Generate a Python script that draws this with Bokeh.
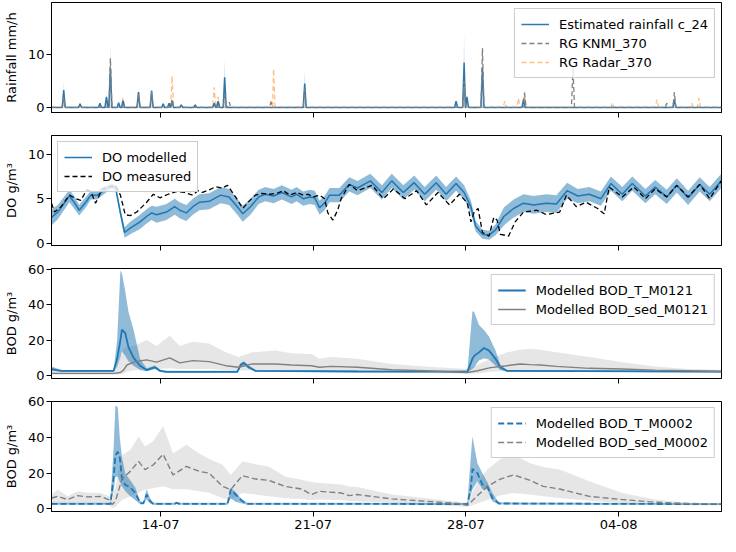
import numpy as np
import pandas as pd
from bokeh.plotting import figure
from bokeh.layouts import column
from bokeh.models import (Range1d, FixedTicker, DatetimeTickFormatter, Legend, LegendItem,
                          CustomLabelingPolicy)
from bokeh.embed import file_html
from bokeh.resources import INLINE

# ---------------- data (time in days since 2019-07-09 00:00) ----------------
START = "2019-07-09 00:00"
X_END = 30.72
tick_dates = ["2019-07-14", "2019-07-21", "2019-07-28", "2019-08-04"]

# Rainfall panel (peaks)
rain_est_t = [0.56, 1.31, 2.22, 2.52, 2.70, 3.08, 3.28, 3.99, 4.59, 5.12, 5.39, 5.53, 5.95, 6.59,
              7.46, 7.64, 7.94, 11.61, 18.55, 18.92, 19.05, 19.76, 21.64, 28.56]
rain_est = [3.3, 0.7, 0.8, 2.0, 7.5, 0.9, 1.3, 2.9, 3.2, 0.7, 0.8, 1.3, 0.5, 0.5,
            0.8, 1.2, 5.7, 4.5, 1.2, 8.5, 2.0, 7.5, 1.5, 1.5]
rain_est_hi = [4.7, 0.9, 1.0, 2.6, 12.0, 1.2, 1.6, 3.5, 3.3, 0.9, 1.0, 1.6, 0.7, 0.7,
               1.0, 1.5, 9.2, 6.9, 1.6, 14.0, 2.5, 8.0, 1.9, 1.9]
knmi_t = [0.56, 2.70, 3.99, 4.59, 5.53, 7.94, 8.15, 10.07, 11.61, 18.92, 19.76, 21.69, 23.91, 28.21, 28.56]
knmi = [2.0, 9.3, 2.5, 3.0, 1.5, 2.5, 1.0, 1.0, 3.5, 5.0, 11.2, 2.7, 7.5, 0.8, 2.9]
radar_t = [0.56, 2.60, 3.28, 3.99, 5.53, 7.46, 7.64, 10.07, 10.18, 18.92, 20.78, 21.41, 21.69,
           25.72, 27.76, 29.35, 29.69]
radar = [1.0, 1.5, 1.8, 2.9, 5.9, 3.8, 2.0, 1.5, 7.3, 4.5, 1.2, 1.8, 3.0, 0.9, 1.5, 0.8, 1.8]

# DO panel
do_t = [0.00, 0.29, 0.82, 1.04, 1.27, 1.57, 1.80, 2.10, 2.40, 2.70, 2.93, 3.16, 3.35, 3.61, 4.06,
        4.36, 4.59, 4.82, 5.27, 5.65, 5.88, 6.18, 6.48, 6.78, 7.23, 7.76, 8.14, 8.52, 8.77, 9.12,
        9.50, 9.80, 10.18, 10.56, 11.01, 11.24, 11.54, 11.84, 12.07, 12.29, 12.52, 12.75, 13.20,
        13.65, 14.03, 14.62, 15.15, 15.60, 16.13, 16.63, 17.11, 17.64, 18.09, 18.55, 18.92, 19.23,
        19.45, 19.76, 20.06, 20.36, 20.74, 21.19, 21.64, 22.10, 22.70, 23.15, 23.64, 24.13, 24.66,
        25.19, 25.65, 26.17, 26.63, 27.23, 27.68, 28.21, 28.67, 29.19, 29.72, 30.18, 30.71]
do_mod = [2.9, 3.5, 5.3, 4.6, 3.7, 4.6, 5.4, 5.4, 5.9, 6.35, 6.3, 3.4, 1.2, 1.7, 2.4,
          3.0, 3.4, 3.2, 3.5, 4.1, 3.7, 3.4, 4.1, 4.6, 4.7, 5.4, 5.2, 4.1, 3.3, 4.1,
          5.2, 5.5, 5.3, 5.7, 5.2, 5.5, 5.0, 5.2, 5.1, 4.0, 4.5, 5.4, 5.4,
          6.6, 6.2, 7.0, 5.7, 7.0, 5.7, 6.8, 5.5, 6.8, 5.5, 6.7, 5.7, 4.1,
          1.9, 1.0, 0.9, 1.5, 3.0, 3.9, 4.5, 4.3, 4.5, 4.4, 5.9, 5.3, 5.5,
          5.0, 6.7, 5.5, 6.7, 5.3, 6.3, 5.2, 6.5, 5.1, 6.6, 5.5, 7.0]
do_spread = [0.9, 0.8, 0.7, 0.7, 0.6, 0.6, 0.5, 0.5, 0.4, 0.3, 0.3, 0.5, 0.6, 0.7, 0.8,
             0.8, 0.8, 0.9, 0.9, 0.9, 0.9, 0.9, 0.9, 0.9, 0.9, 0.9, 0.9, 0.9, 0.9, 0.9,
             0.8, 0.8, 0.8, 0.8, 0.8, 0.8, 0.8, 0.8, 0.8, 0.8, 0.8, 0.8, 0.8,
             0.8, 0.8, 0.8, 0.8, 0.8, 0.8, 0.8, 0.8, 0.8, 0.8, 0.8, 0.8, 0.7,
             0.6, 0.5, 0.5, 0.6, 1.0, 1.0, 1.0, 1.0, 1.0, 1.0, 0.9, 0.8, 0.8,
             0.8, 0.8, 0.8, 0.8, 0.8, 0.8, 0.8, 0.8, 0.8, 0.8, 0.8, 0.8]
dom_t = [0.00, 0.14, 0.44, 0.82, 1.12, 1.34, 1.62, 1.80, 2.02, 2.33, 2.63, 2.93, 3.16, 3.38, 3.61,
         3.91, 4.36, 4.67, 4.97, 5.35, 5.72, 6.10, 6.48, 6.71, 6.93, 7.23, 7.54, 7.84, 8.07, 8.44,
         8.77, 9.05, 9.35, 9.65, 10.03, 10.33, 10.63, 10.93, 11.24, 11.54, 11.77, 11.99, 12.29,
         12.52, 12.67, 12.90, 13.12, 13.28, 13.65, 14.03, 14.70, 15.22, 15.68, 16.21, 16.74, 17.19,
         17.72, 18.25, 18.70, 19.07, 19.23, 19.38, 19.56, 19.76, 20.06, 20.28, 20.43, 20.58, 20.96,
         21.26, 21.64, 22.25, 22.70, 23.30, 23.61, 24.06, 24.51, 25.04, 25.34, 25.57, 26.17, 26.70,
         27.23, 27.68, 28.21, 28.67, 29.19, 29.72, 30.18, 30.71]
do_meas = [4.5, 3.5, 4.1, 5.4, 5.0, 4.8, 6.0, 5.8, 4.5, 6.1, 6.35, 6.5, 5.4, 3.2, 3.1,
           3.5, 4.6, 5.5, 5.1, 5.5, 5.8, 5.7, 5.4, 5.9, 5.7, 6.0, 6.35, 6.2, 6.5, 5.2,
           3.9, 4.7, 5.4, 5.6, 5.5, 5.6, 5.9, 5.4, 5.7, 5.4, 5.5, 5.2, 5.4,
           5.0, 3.4, 2.6, 3.7, 5.0, 6.6, 5.9, 6.5, 5.0, 6.1, 5.0, 5.9, 4.3,
           5.7, 4.3, 5.5, 4.5, 2.4, 3.5, 3.9, 1.2, 0.8, 2.9, 2.6, 1.0, 0.8,
           2.4, 3.5, 3.7, 3.2, 3.5, 5.4, 4.1, 4.6, 3.9, 3.3, 6.3, 5.2, 6.3,
           5.0, 6.1, 5.2, 6.5, 5.2, 6.6, 5.0, 7.0]

# BOD M0121 panel
b1_t = [0.00, 0.44, 2.85, 3.01, 3.16, 3.23, 3.38, 3.53, 3.76, 4.06, 4.36, 4.59, 4.74, 4.97, 5.27,
        8.52, 8.67, 8.82, 9.05, 9.35, 14.03, 19.07, 19.30, 19.38, 19.60, 19.83, 20.06, 20.36,
        20.58, 20.88, 30.71]
b1 = [3.5, 2.5, 2.5, 9.3, 20.0, 26.0, 24.0, 16.0, 10.0, 5.4, 2.9, 3.9, 4.5, 2.5, 1.9,
      1.9, 5.8, 7.0, 4.5, 2.5, 2.1, 2.0, 9.3, 11.0, 13.0, 15.5, 14.0, 9.3,
      4.5, 2.5, 2.0]
b1_lo = [2.5, 2.0, 2.0, 5.0, 10.0, 13.5, 11.0, 8.0, 5.4, 3.0, 2.3, 3.0, 3.5, 2.0, 1.5,
         1.5, 4.5, 5.5, 3.5, 2.0, 1.7, 1.6, 3.5, 4.5, 8.3, 9.7, 9.0, 5.4,
         3.0, 2.0, 1.6]
b1_hi = [5.0, 3.0, 3.0, 20.0, 59.6, 58.0, 48.0, 36.0, 26.0, 9.3, 4.0, 5.0, 5.5, 3.2, 2.5,
         2.5, 7.0, 8.0, 5.5, 3.0, 2.6, 2.5, 36.4, 36.0, 28.6, 25.7, 22.0, 14.0,
         6.0, 3.0, 2.5]
s1_t = [0.00, 2.85, 3.16, 3.31, 3.46, 3.84, 4.36, 4.82, 5.42, 5.88, 6.48, 7.23, 7.99, 8.59, 9.20,
        10.26, 11.01, 11.92, 12.29, 12.82, 14.03, 15.60, 17.11, 19.07, 19.53, 20.13, 20.88, 21.49,
        21.94, 22.40, 23.15, 24.66, 26.17, 27.68, 29.19, 30.71]
s1 = [1.0, 1.0, 1.5, 3.0, 5.8, 7.7, 8.7, 7.4, 9.9, 7.0, 8.3, 7.7, 5.4, 4.5, 6.4,
      6.4, 5.8, 5.4, 4.5, 5.0, 4.5, 3.1, 2.5, 1.5, 2.5, 4.3, 5.4, 6.4,
      6.0, 5.8, 5.0, 3.9, 3.5, 2.9, 2.5, 2.1]
s1_lo = [0.3, 0.3, 0.5, 1.0, 2.0, 3.0, 3.5, 3.5, 4.0, 3.5, 3.5, 3.5, 3.0, 2.5, 3.0,
         3.0, 3.0, 2.5, 2.0, 2.5, 2.5, 1.5, 1.2, 0.8, 1.0, 2.0, 2.5, 3.0,
         3.0, 3.0, 2.5, 2.0, 1.8, 1.5, 1.3, 1.2]
s1_hi = [3.0, 2.0, 10.0, 15.0, 16.0, 17.0, 20.0, 16.6, 22.5, 16.6, 19.0, 18.0, 13.0, 10.3, 13.0,
         14.0, 12.5, 12.0, 9.3, 10.3, 9.3, 6.4, 5.0, 3.5, 6.0, 9.3, 13.0, 14.5,
         15.0, 14.5, 13.0, 10.3, 7.4, 5.0, 3.5, 3.1]

# BOD M0002 panel
b2_t = [0.00, 2.70, 2.85, 2.93, 3.04, 3.13, 3.23, 3.38, 3.61, 3.84, 4.06, 4.21, 4.36, 4.52, 4.67,
        5.65, 5.72, 5.88, 8.07, 8.22, 8.44, 8.75, 8.97, 14.03, 19.07, 19.23, 19.30, 19.53, 19.76,
        19.98, 20.21, 20.51, 30.71]
b2 = [2.8, 2.8, 18.0, 30.0, 32.0, 29.0, 17.0, 13.5, 12.0, 9.0, 3.3, 3.0, 8.0, 4.3, 2.8,
      2.8, 3.3, 2.8, 2.8, 10.8, 8.0, 4.3, 2.8, 2.8, 2.6, 12.0, 22.3, 20.0, 13.5,
      12.6, 6.1, 3.0, 2.6]
b2_lo = [2.3, 2.3, 10.0, 18.0, 18.0, 15.0, 12.6, 10.0, 7.0, 5.0, 2.5, 2.5, 5.2, 3.0, 2.3,
         2.3, 2.7, 2.3, 2.3, 6.0, 4.0, 3.0, 2.3, 2.3, 2.1, 8.0, 10.8, 15.4, 11.0,
         10.8, 4.3, 2.5, 2.1]
b2_hi = [3.4, 3.4, 35.0, 58.0, 57.0, 40.0, 29.0, 20.0, 16.0, 12.0, 4.5, 3.5, 11.0, 6.0, 3.4,
         3.4, 3.9, 3.4, 3.4, 11.7, 9.5, 5.0, 3.4, 3.4, 3.2, 30.0, 40.5, 25.6, 20.0,
         15.0, 9.0, 3.5, 3.1]
s2_t = [0.00, 0.29, 0.74, 1.19, 1.65, 2.25, 2.63, 2.78, 2.93, 3.23, 3.61, 3.99, 4.29, 4.67, 5.12,
        5.57, 6.18, 6.78, 7.23, 7.84, 8.22, 8.75, 9.35, 9.95, 10.71, 11.46, 11.92, 12.29, 13.28,
        13.65, 14.03, 15.60, 17.11, 18.62, 19.07, 19.53, 19.98, 20.58, 21.19, 21.94, 22.55, 23.30,
        24.66, 26.17, 27.68, 29.19, 30.71]
s2 = [6.1, 7.0, 5.2, 7.4, 6.7, 7.0, 5.0, 2.4, 4.3, 16.7, 21.0, 26.6, 22.0, 24.7, 30.6,
      19.0, 23.8, 21.0, 20.0, 12.6, 10.8, 18.6, 16.7, 16.0, 12.6, 11.1, 8.0, 9.8, 8.9,
      7.4, 8.0, 5.6, 4.3, 3.0, 1.9, 7.4, 12.6, 16.7, 19.0, 16.0, 12.6, 11.1,
      7.0, 5.2, 3.7, 3.0, 2.8]
s2_lo = [2.4, 2.8, 2.8, 3.0, 3.0, 3.3, 2.0, 0.6, 1.0, 5.0, 7.0, 9.0, 10.8, 11.5, 12.6,
         11.0, 11.0, 9.8, 9.0, 6.0, 5.2, 8.9, 8.0, 7.0, 6.0, 5.5, 5.0, 5.2, 4.8,
         4.5, 4.3, 3.5, 2.4, 1.5, 1.1, 3.0, 5.0, 7.5, 8.9, 8.0, 7.0, 6.1,
         4.5, 3.3, 2.5, 2.0, 1.9]
s2_hi = [8.0, 10.8, 7.0, 9.8, 9.0, 8.9, 7.0, 5.2, 12.0, 30.0, 33.0, 40.5, 35.0, 38.0, 46.4,
         31.0, 35.9, 31.0, 28.0, 24.7, 19.0, 26.6, 25.0, 23.8, 18.2, 16.3, 15.0, 14.5, 13.6,
         12.5, 12.3, 8.0, 6.1, 4.0, 3.3, 15.0, 22.0, 28.0, 30.3, 25.6, 23.5, 22.0,
         15.4, 8.9, 5.2, 3.3, 3.3]

rain_yticks = [0, 10]
do_yticks = [0, 5, 10]
bod_yticks = [0, 20, 40, 60]

# ---------------- helpers ----------------
t0 = pd.Timestamp(START)


def to_dt(days):
    return t0 + pd.to_timedelta(np.asarray(days, dtype=float), unit="D")


def spikes(times, vals, w=0.07):
    pts = []
    for t, v in zip(times, vals):
        pts += [(t - w, 0.0), (t, v), (t + w, 0.0)]
    pts = [(0.0, 0.0)] + sorted(pts) + [(X_END, 0.0)]
    return to_dt([p[0] for p in pts]), [p[1] for p in pts]


FONT = "DejaVu Sans"
FS = "13px"
BLUE = "#1f77b4"
xr = Range1d(start=to_dt([0.0])[0], end=to_dt([X_END])[0])
xticks = [pd.Timestamp(d).value / 1e6 for d in tick_dates]


def make_fig(yr, yticks, ylabel, top=11, bottom=12, show_x=False):
    p = figure(frame_width=670, frame_height=110, x_axis_type="datetime", x_range=xr,
               y_range=Range1d(*yr), output_backend="svg", toolbar_location=None,
               min_border_left=49, min_border_right=1, min_border_top=top,
               min_border_bottom=bottom, title=None)
    p.xgrid.visible = False
    p.ygrid.visible = False
    p.outline_line_color = "black"
    p.outline_line_width = 1
    p.outline_line_alpha = 1
    for ax in (p.xaxis[0], p.yaxis[0]):
        ax.major_tick_out = 5
        ax.major_tick_in = 0
        ax.minor_tick_out = 0
        ax.minor_tick_in = 0
        ax.axis_line_color = "black"
        ax.major_tick_line_color = "black"
        ax.major_label_text_font = FONT
        ax.major_label_text_font_size = FS
        ax.major_label_text_color = "black"
    p.yaxis[0].ticker = FixedTicker(ticks=yticks)
    p.yaxis[0].major_label_standoff = 2
    p.yaxis[0].axis_label = ylabel
    p.yaxis[0].axis_label_text_font = FONT
    p.yaxis[0].axis_label_text_font_size = FS
    p.yaxis[0].axis_label_text_font_style = "normal"
    p.yaxis[0].axis_label_text_color = "black"
    p.yaxis[0].axis_label_standoff = 6
    p.xaxis[0].ticker = FixedTicker(ticks=xticks)
    fmt = "%d-%m"
    p.xaxis[0].formatter = DatetimeTickFormatter(
        microseconds=fmt, milliseconds=fmt, seconds=fmt, minsec=fmt, minutes=fmt,
        hourmin=fmt, hours=fmt, days=fmt, months=fmt, years=fmt)
    if show_x:
        p.xaxis[0].major_label_standoff = 3
    else:
        # shared x axis: tick marks only, labels are not drawn
        p.xaxis[0].major_label_text_font_size = "1px"
        p.xaxis[0].major_label_standoff = 0
        p.xaxis[0].major_label_policy = CustomLabelingPolicy(code="return []")
    return p


def add_legend(p, items, location):
    leg = Legend(items=[LegendItem(label=l, renderers=[r]) for l, r in items], location=location)
    leg.label_text_font = FONT
    leg.label_text_font_size = FS
    leg.label_text_color = "black"
    leg.border_line_color = "#cccccc"
    leg.border_line_alpha = 1
    leg.background_fill_alpha = 0.8
    leg.glyph_width = 28
    leg.glyph_height = 18
    leg.label_height = 18
    leg.label_standoff = 10
    leg.spacing = 1
    leg.padding = 6
    leg.margin = 6
    p.add_layout(leg)


# ---------------- panel 1: rainfall ----------------
p1 = make_fig((-0.95, 19.8), rain_yticks, "Rainfall mm/h", top=2)
bx, by = spikes(rain_est_t, rain_est_hi)
p1.varea(x=bx, y1=np.zeros(len(by)), y2=by, fill_color=BLUE, fill_alpha=0.2)
rx, ry = spikes(radar_t, radar)
r_radar = p1.line(rx, ry, line_color="#ff7f0e", line_alpha=0.5, line_dash="5 3", line_width=1.3)
ex, ey = spikes(rain_est_t, rain_est)
r_est = p1.line(ex, ey, line_color="#1c6aa3", line_alpha=0.9, line_width=1.5)
kx, ky = spikes(knmi_t, knmi)
r_knmi = p1.line(kx, ky, line_color="grey", line_dash="5 3", line_width=1.3)
add_legend(p1, [("Estimated rainfall c_24", r_est), ("RG KNMI_370", r_knmi),
                ("RG Radar_370", r_radar)], "top_right")

# ---------------- panel 2: DO ----------------
p2 = make_fig((-0.26, 12.1), do_yticks, "DO g/m³")
do_lo = np.array(do_mod) - np.array(do_spread)
do_hi = np.array(do_mod) + np.array(do_spread)
p2.varea(x=to_dt(do_t), y1=do_lo, y2=do_hi, fill_color=BLUE, fill_alpha=0.5)
r_dom = p2.line(to_dt(do_t), do_mod, line_color=BLUE, line_width=1.5)
r_dmeas = p2.line(to_dt(dom_t), do_meas, line_color="black", line_dash="5 3", line_width=1.3)
add_legend(p2, [("DO modelled", r_dom), ("DO measured", r_dmeas)], "top_left")

# ---------------- panel 3: BOD M0121 ----------------
p3 = make_fig((-1.9, 60.8), bod_yticks, "BOD g/m³")
p3.varea(x=to_dt(s1_t), y1=s1_lo, y2=s1_hi, fill_color="grey", fill_alpha=0.2)
p3.varea(x=to_dt(b1_t), y1=b1_lo, y2=b1_hi, fill_color=BLUE, fill_alpha=0.5)
r_b1 = p3.line(to_dt(b1_t), b1, line_color=BLUE, line_width=1.8)
r_s1 = p3.line(to_dt(s1_t), s1, line_color="grey", line_width=1.4)
add_legend(p3, [("Modelled BOD_T_M0121", r_b1), ("Modelled BOD_sed_M0121", r_s1)], "top_right")

# ---------------- panel 4: BOD M0002 ----------------
p4 = make_fig((-1.5, 60.2), bod_yticks, "BOD g/m³", show_x=True, bottom=20)
p4.varea(x=to_dt(s2_t), y1=s2_lo, y2=s2_hi, fill_color="grey", fill_alpha=0.2)
p4.varea(x=to_dt(b2_t), y1=b2_lo, y2=b2_hi, fill_color=BLUE, fill_alpha=0.5)
r_b2 = p4.line(to_dt(b2_t), b2, line_color=BLUE, line_width=1.8, line_dash="6 3")
r_s2 = p4.line(to_dt(s2_t), s2, line_color="grey", line_width=1.4, line_dash="6 3")
add_legend(p4, [("Modelled BOD_T_M0002", r_b2), ("Modelled BOD_sed_M0002", r_s2)], "top_right")

layout = column(p1, p2, p3, p4, spacing=0)
open("out.html", "w").write(file_html(layout, INLINE))
